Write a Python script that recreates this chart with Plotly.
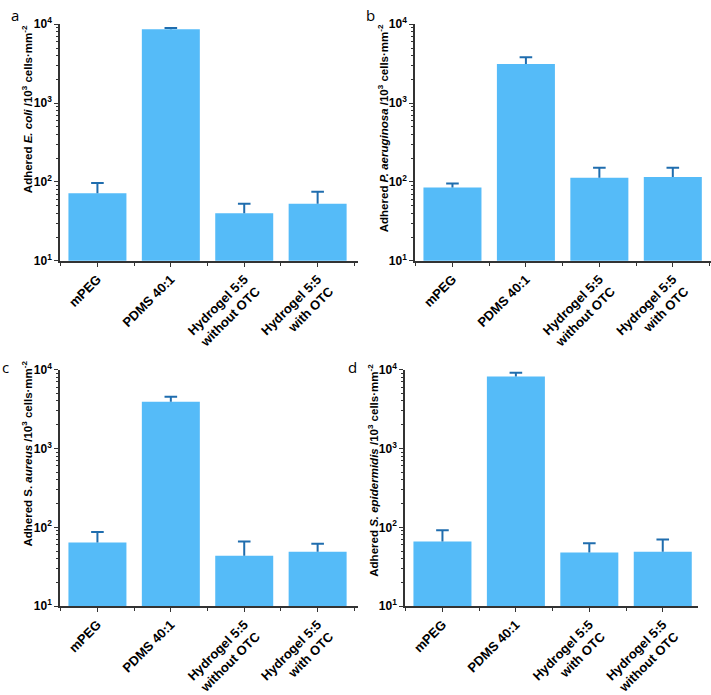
import plotly.graph_objects as go

# ---------------- data ----------------
cats_abc = ["mPEG", "PDMS 40:1", "Hydrogel 5:5<br>without OTC", "Hydrogel 5:5<br>with OTC"]
cats_d = ["mPEG", "PDMS 40:1", "Hydrogel 5:5<br>with OTC", "Hydrogel 5:5<br>without OTC"]

ecoli_vals = [72, 8630, 40, 53]
ecoli_sd = [25, 320, 13, 22]

paer_vals = [85, 3130, 113, 116]
paer_sd = [11, 680, 39, 36]

saur_vals = [64, 3900, 43.5, 49]
saur_sd = [23, 630, 22.5, 13]

sepi_vals = [66, 8200, 48, 49]
sepi_sd = [26, 900, 15, 21]

ytick_vals = [10, 100, 1000, 10000]
ytick_text = ["10<sup>1</sup>", "10<sup>2</sup>", "10<sup>3</sup>", "10<sup>4</sup>"]

titles = [
    "Adhered <i>E. coli</i> /10<sup>3</sup> cells·mm<sup>-2</sup>",
    "Adhered <i>P. aeruginosa</i> /10<sup>3</sup> cells·mm<sup>-2</sup>",
    "Adhered S. <i>aureus</i> /10<sup>3</sup> cells·mm<sup>-2</sup>",
    "Adhered <i>S. epidermidis</i> /10<sup>3</sup> cells·mm<sup>-2</sup>",
]
letters = ["a", "b", "c", "d"]

# ---------------- style ----------------
W, H = 711, 695
BAR = "#55BBF8"
ERR = "#1F6DAE"
AX = "#333333"
FONT = "Liberation Sans"

panels = [
    dict(cats=cats_abc, vals=ecoli_vals, sd=ecoli_sd, xd=(60, 358), yd=(16, 264), xr=(-0.51, 3.55),
         title_xy=(27, 105), letter_xy=(15, 6)),
    dict(cats=cats_abc, vals=paer_vals, sd=paer_sd, xd=(415, 711), yd=(16, 264), xr=(-0.51, 3.52),
         title_xy=(383, 125), letter_xy=(370, 6)),
    dict(cats=cats_abc, vals=saur_vals, sd=saur_sd, xd=(60, 358), yd=(378, 626), xr=(-0.51, 3.55),
         title_xy=(27, 466), letter_xy=(5, 375)),
    dict(cats=cats_d, vals=sepi_vals, sd=sepi_sd, xd=(405, 698), yd=(378, 626), xr=(-0.51, 3.48),
         title_xy=(373, 484), letter_xy=(352, 375)),
]

fig = go.Figure()
layout = dict(width=W, height=H, margin=dict(l=0, r=0, t=0, b=0),
              paper_bgcolor="white", plot_bgcolor="white", showlegend=False,
              font=dict(family=FONT, color="black"))
annotations = []

for i, p in enumerate(panels):
    n = "" if i == 0 else str(i + 1)
    xa, ya = "x" + n, "y" + n
    xs = list(range(len(p["cats"])))
    tops = [v + s for v, s in zip(p["vals"], p["sd"])]
    fig.add_trace(go.Bar(
        x=xs, y=p["vals"], xaxis=xa, yaxis=ya, width=0.79,
        marker=dict(color=BAR, line=dict(width=0)), hoverinfo="skip",
    ))
    # upper error bars only: cap marker at top, stem down to the bar top
    fig.add_trace(go.Scatter(
        x=xs, y=tops, xaxis=xa, yaxis=ya, mode="markers",
        marker=dict(symbol="line-ew", size=9, line=dict(color=ERR, width=2)),
        error_y=dict(type="data", symmetric=False, array=[0] * len(tops), arrayminus=p["sd"],
                     color=ERR, thickness=2, width=0),
    ))
    layout["xaxis" + n] = dict(
        domain=[p["xd"][0] / W, p["xd"][1] / W], anchor=ya, range=list(p["xr"]),
        tickmode="array", tickvals=xs, ticktext=["<b>%s</b>" % c for c in p["cats"]],
        tickangle=-45, tickfont=dict(size=13, family=FONT, color="black"),
        showline=True, linecolor=AX, linewidth=1.5, ticks="outside", ticklen=4,
        tickcolor=AX, tickwidth=1, showgrid=False, zeroline=False,
        minor=dict(ticks="outside", ticklen=3, tickcolor=AX, tickwidth=1, tick0=0.5, dtick=1, showgrid=False),
    )
    layout["yaxis" + n] = dict(
        domain=[1 - p["yd"][1] / H, 1 - p["yd"][0] / H], anchor=xa, type="log", range=[1, 4],
        tickmode="array", tickvals=ytick_vals, ticktext=["<b>%s</b>" % t for t in ytick_text],
        tickfont=dict(size=12, family=FONT, color="black"),
        showline=True, linecolor=AX, linewidth=1.5, ticks="outside", ticklen=4,
        tickcolor=AX, tickwidth=1, showgrid=False, zeroline=False,
        minor=dict(ticks="outside", ticklen=2.5, tickcolor=AX, tickwidth=1, dtick="D1", showgrid=False),
    )
    tx, ty = p["title_xy"]
    annotations.append(dict(
        text="<b>%s</b>" % titles[i], x=tx / W, y=1 - ty / H, xref="paper", yref="paper",
        xanchor="center", yanchor="middle", textangle=-90, showarrow=False,
        font=dict(size=11.5, family=FONT, color="black"),
    ))
    lx, ly = p["letter_xy"]
    annotations.append(dict(
        text=letters[i], x=lx / W, y=1 - ly / H, xref="paper", yref="paper",
        xanchor="center", yanchor="middle", showarrow=False,
        font=dict(size=15, family="Open Sans", color="black"),
    ))

layout["annotations"] = annotations
fig.update_layout(**layout)
fig.write_html("out.html")
